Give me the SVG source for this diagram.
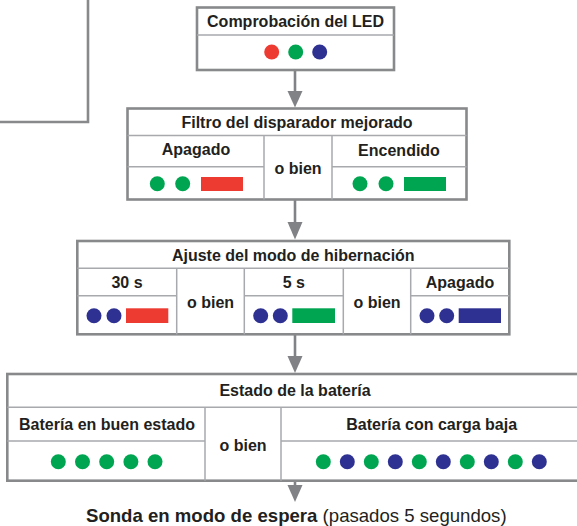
<svg xmlns="http://www.w3.org/2000/svg" width="577" height="526" viewBox="0 0 577 526">
<style>
.outer{fill:#fff;stroke:#88898b;stroke-width:2.6}
.inner{stroke:#a7a9ac;stroke-width:1.5;fill:none}
.t{font-family:"Liberation Sans",Arial,sans-serif;font-weight:bold;font-size:16px;fill:#231f20;text-anchor:middle}
.r{fill:#ee3b32}.g{fill:#00a551}.b{fill:#2e3191}
.conn{stroke:#808285;stroke-width:2.6;fill:none}
.head{fill:#808285}
</style>
<rect width="577" height="526" fill="#fff"/>
<path d="M88 0 V122 H0" fill="none" stroke="#88898b" stroke-width="2.6"/>

<g id="connectors">
<line class="conn" x1="295" y1="70" x2="295" y2="92"/>
<polygon class="head" points="287.5,91 302.5,91 295,107.5"/>
<line class="conn" x1="295" y1="200" x2="295" y2="224"/>
<polygon class="head" points="287.5,222 302.5,222 295,239.5"/>
<line class="conn" x1="295" y1="335" x2="295" y2="358"/>
<polygon class="head" points="287.5,356 302.5,356 295,373"/>
<line class="conn" x1="295" y1="481" x2="295" y2="487"/>
<polygon class="head" points="287.5,485 302.5,485 295,502"/>
</g>

<g id="led-check">
<rect class="outer" x="197" y="7.5" width="197" height="62.5"/>
<line class="inner" x1="197" y1="35" x2="394" y2="35"/>
<text class="t" x="295.5" y="27">Comprobación del LED</text>
<circle class="r" cx="271.7" cy="52" r="7.5"/>
<circle class="g" cx="295.7" cy="52" r="7.5"/>
<circle class="b" cx="319.7" cy="52" r="7.5"/>
</g>

<g id="trigger-filter">
<rect class="outer" x="127.5" y="108.5" width="339" height="91"/>
<line class="inner" x1="127.5" y1="135.5" x2="466.5" y2="135.5"/>
<line class="inner" x1="264" y1="135.5" x2="264" y2="199.5"/>
<line class="inner" x1="332" y1="135.5" x2="332" y2="199.5"/>
<line class="inner" x1="127.5" y1="166.7" x2="264" y2="166.7"/>
<line class="inner" x1="332" y1="166.7" x2="466.5" y2="166.7"/>
<text class="t" x="297" y="128.3">Filtro del disparador mejorado</text>
<text class="t" x="196" y="155">Apagado</text>
<text class="t" x="298" y="174">o bien</text>
<text class="t" x="399" y="155.5">Encendido</text>
<circle class="g" cx="157.3" cy="183.7" r="7.5"/>
<circle class="g" cx="182.7" cy="183.7" r="7.5"/>
<rect class="r" x="201" y="177" width="42" height="14"/>
<circle class="g" cx="360" cy="183.7" r="7.5"/>
<circle class="g" cx="386" cy="183.7" r="7.5"/>
<rect class="g" x="404" y="177" width="42" height="14"/>
</g>

<g id="hibernation">
<rect class="outer" x="77.3" y="241" width="432" height="93.3"/>
<line class="inner" x1="77.3" y1="268.3" x2="509.3" y2="268.3"/>
<line class="inner" x1="176.7" y1="268.3" x2="176.7" y2="334.3"/>
<line class="inner" x1="244.3" y1="268.3" x2="244.3" y2="334.3"/>
<line class="inner" x1="343.3" y1="268.3" x2="343.3" y2="334.3"/>
<line class="inner" x1="410.7" y1="268.3" x2="410.7" y2="334.3"/>
<line class="inner" x1="77.3" y1="295.7" x2="176.7" y2="295.7"/>
<line class="inner" x1="244.3" y1="295.7" x2="343.3" y2="295.7"/>
<line class="inner" x1="410.7" y1="295.7" x2="509.3" y2="295.7"/>
<text class="t" x="293.3" y="261">Ajuste del modo de hibernación</text>
<text class="t" x="127" y="287.7">30 s</text>
<text class="t" x="210.5" y="308.3">o bien</text>
<text class="t" x="293.8" y="287.7">5 s</text>
<text class="t" x="377" y="308.3">o bien</text>
<text class="t" x="460" y="287.7">Apagado</text>
<circle class="b" cx="94" cy="315.7" r="7.5"/>
<circle class="b" cx="114" cy="315.7" r="7.5"/>
<rect class="r" x="126" y="308.3" width="42.3" height="14.7"/>
<circle class="b" cx="260.7" cy="315.7" r="7.5"/>
<circle class="b" cx="280.3" cy="315.7" r="7.5"/>
<rect class="g" x="292.3" y="308.3" width="42.7" height="14.7"/>
<circle class="b" cx="427" cy="315.7" r="7.5"/>
<circle class="b" cx="446.7" cy="315.7" r="7.5"/>
<rect class="b" x="458.7" y="308.3" width="42.3" height="14.7"/>
</g>

<g id="battery">
<rect class="outer" x="7.3" y="374" width="576" height="106.7"/>
<line class="inner" x1="7.3" y1="407.3" x2="583" y2="407.3"/>
<line class="inner" x1="205" y1="407.3" x2="205" y2="480.7"/>
<line class="inner" x1="281" y1="407.3" x2="281" y2="480.7"/>
<line class="inner" x1="7.3" y1="441" x2="205" y2="441"/>
<line class="inner" x1="281" y1="441" x2="583" y2="441"/>
<text class="t" x="295" y="395.7">Estado de la batería</text>
<text class="t" x="107" y="430">Batería en buen estado</text>
<text class="t" x="243" y="450.7">o bien</text>
<text class="t" x="431.7" y="430">Batería con carga baja</text>
<circle class="g" cx="58.3" cy="461.7" r="7.5"/>
<circle class="g" cx="82.5" cy="461.7" r="7.5"/>
<circle class="g" cx="106.7" cy="461.7" r="7.5"/>
<circle class="g" cx="130.9" cy="461.7" r="7.5"/>
<circle class="g" cx="155" cy="461.7" r="7.5"/>
<circle class="g" cx="323.3" cy="461.7" r="7.5"/>
<circle class="b" cx="347.3" cy="461.7" r="7.5"/>
<circle class="g" cx="371.3" cy="461.7" r="7.5"/>
<circle class="b" cx="395.3" cy="461.7" r="7.5"/>
<circle class="g" cx="419.3" cy="461.7" r="7.5"/>
<circle class="b" cx="443.3" cy="461.7" r="7.5"/>
<circle class="g" cx="467.3" cy="461.7" r="7.5"/>
<circle class="b" cx="491.3" cy="461.7" r="7.5"/>
<circle class="g" cx="515.3" cy="461.7" r="7.5"/>
<circle class="b" cx="539.3" cy="461.7" r="7.5"/>
</g>

<g id="standby">
<text x="296.3" y="522" font-family="'Liberation Sans',Arial,sans-serif" font-size="18.6" fill="#231f20" text-anchor="middle"><tspan font-weight="bold">Sonda en modo de espera</tspan> (pasados 5 segundos)</text>
</g>
</svg>
